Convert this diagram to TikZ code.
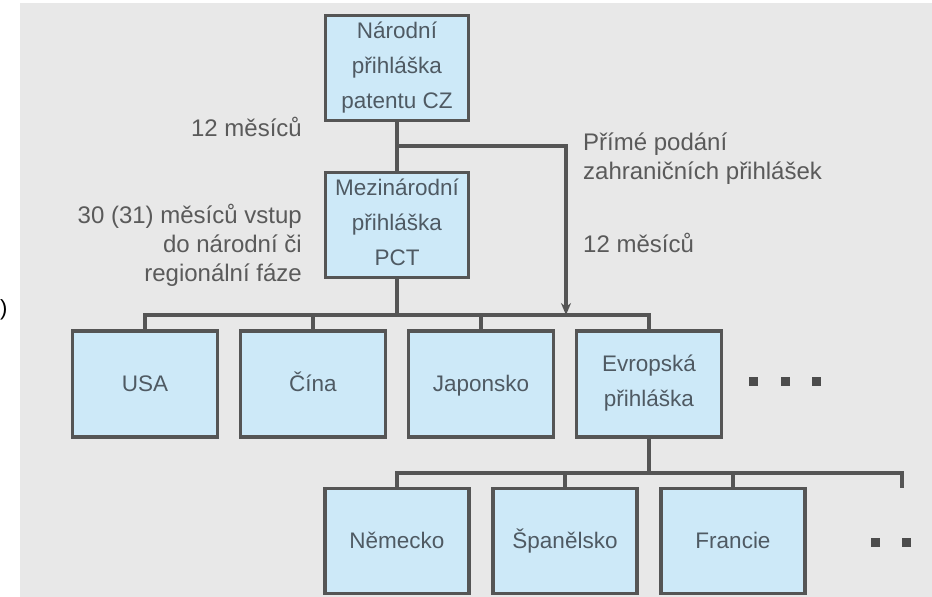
\documentclass[tikz,border=0pt]{standalone}
\usepackage{fontspec}
\setmainfont{Liberation Sans}
\usetikzlibrary{arrows.meta}
\definecolor{bgray}{HTML}{E8E8E8}
\definecolor{boxblue}{HTML}{CDE9F8}
\definecolor{edgegray}{HTML}{555555}
\definecolor{txtgray}{HTML}{5A5A5A}
\definecolor{boxtxt}{HTML}{4F5A63}
\newcommand{\boxstrut}{\vrule width 0pt height 21pt depth 6pt}
\begin{document}
\begin{tikzpicture}[
    x=1pt, y=-1pt,
    box/.style={rectangle, draw=edgegray, fill=boxblue, line width=3.2pt, align=center,
        text=boxtxt, font=\fontsize{22.5}{35}\selectfont, minimum width=143pt, minimum height=105pt, inner sep=0pt,
        execute at begin node=\boxstrut, execute at end node=\boxstrut},
    lbl/.style={text=txtgray, font=\fontsize{24}{29}\selectfont, inner sep=0pt},
    link/.style={draw=edgegray, line width=3.2pt},
    arrow/.style={link, -{Stealth[length=12pt, width=10pt]}},
    dot/.style={fill=edgegray!90!black, minimum size=9pt, inner sep=0pt}
]
\useasboundingbox (0,0) rectangle (932,597);
\fill[bgray] (20,3) rectangle (932,597);
\begin{scope}
\clip (0,0) rectangle (932,597);

% top level
\node[box] (narodni) at (397,68) {Národní\\přihláška\\patentu CZ};
\node[box] (pct) at (397,225) {Mezinárodní\\přihláška\\PCT};

% countries
\node[box, minimum width=145pt, minimum height=106pt] (usa) at (145,384) {USA};
\node[box, minimum width=145pt, minimum height=106pt] (cina) at (313,384) {Čína};
\node[box, minimum width=145pt, minimum height=106pt] (japonsko) at (481,384) {Japonsko};
\node[box, minimum width=145pt, minimum height=106pt] (evropa) at (649,384) {Evropská\\přihláška};

% european states
\node[box, minimum width=144pt, minimum height=105pt] (nemecko) at (397,541) {Německo};
\node[box, minimum width=144pt, minimum height=105pt] (spanelsko) at (565,541) {Španělsko};
\node[box, minimum width=144pt, minimum height=105pt] (francie) at (733,541) {Francie};

% labels
\node[lbl, anchor=base east] (lbl12) at (302,136) {12 měsíců};
\node[lbl, anchor=north east, align=right] (lblpct) at (302,204) {30 (31) měsíců vstup\\do národní či\\regionální fáze};
\node[lbl, anchor=base west, align=left] (lblprime) at (583,179) {Přímé podání\\zahraničních přihlášek};
\node[lbl, anchor=base west] (lbl12b) at (583,252) {12 měsíců};
\node[font=\fontsize{22}{22}\selectfont, anchor=west, inner sep=0pt] (cut) at (0,310) {)};

% dots
\node[dot] (d1) at (753,381) {};
\node[dot] (d2) at (785,381) {};
\node[dot] (d3) at (816,381) {};
\node[dot] (d4) at (875,542) {};
\node[dot] (d5) at (906,542) {};
\node[dot] (d6) at (936,542) {};

% connectors
\coordinate (split) at (397,146);
\coordinate (bus) at (397,315);
\coordinate (ebus) at (649,473);
\coordinate (more) at (902,488);

\draw[link] (narodni) -- (pct);
\draw[link] (split) -| (566,200);
\draw[arrow] (566,195) -- (566,315);
\draw[link] (pct) -- (bus);
\draw[link] (usa.north) |- (bus) -| (evropa.north);
\draw[link] (cina.north) -- (cina.north |- bus);
\draw[link] (japonsko.north) -- (japonsko.north |- bus);
\draw[link] (evropa) -- (ebus);
\draw[link] (nemecko.north) |- (ebus) -| (more);
\draw[link] (spanelsko.north) -- (spanelsko.north |- ebus);
\draw[link] (francie.north) -- (francie.north |- ebus);
\end{scope}
\end{tikzpicture}
\end{document}
